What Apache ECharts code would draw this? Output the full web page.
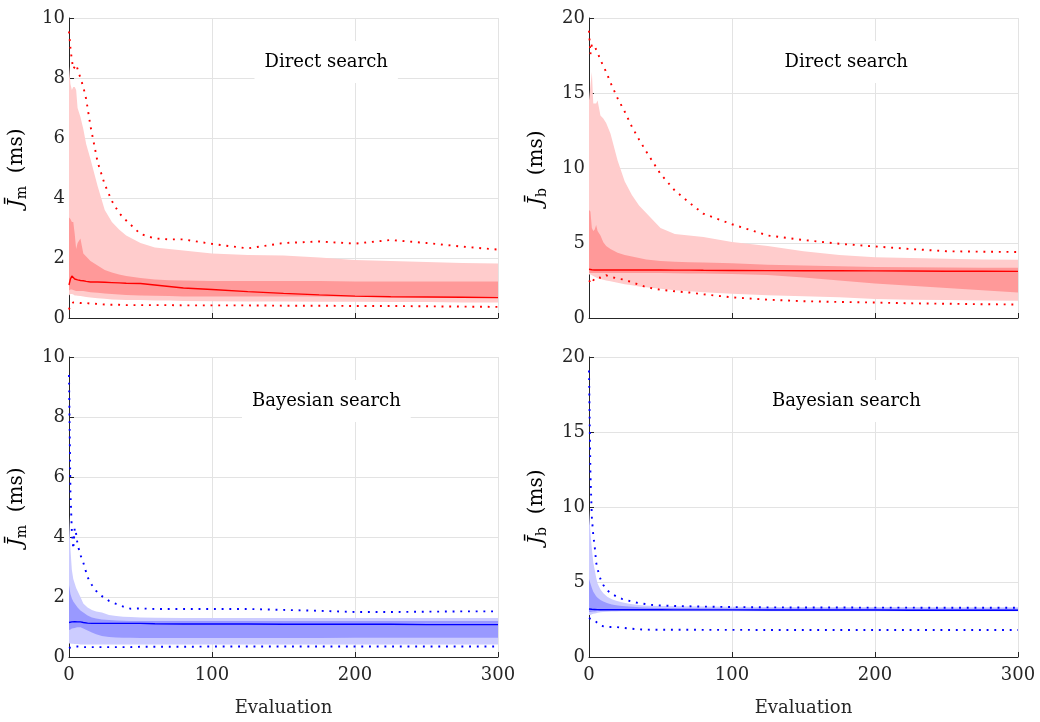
<!DOCTYPE html>
<html>
<head>
<meta charset="utf-8">
<script src="https://cdn.jsdelivr.net/npm/echarts@6/dist/echarts.min.js"></script>
<style>
html,body{margin:0;padding:0;background:#fff;}
#chart{width:1040px;height:722px;}
</style>
</head>
<body>
<div id="chart"></div>
<script>
// ---------- Data: Direct search (top row) ----------
const xDirect = [0,1,2,3,4,5,6,8,10,12,15,20,25,30,35,40,50,60,70,80,100,125,150,175,200,225,250,275,300];

// J_m, direct search
const dmLightHi = [8.4,7.8,7.6,7.7,7.7,7.6,7.0,6.7,6.3,5.8,5.3,4.4,3.6,3.2,2.95,2.75,2.5,2.35,2.3,2.25,2.15,2.1,2.08,2.02,1.93,1.9,1.87,1.83,1.82];
const dmLightLo = [0.75,0.8,0.8,0.78,0.75,0.75,0.74,0.73,0.72,0.7,0.68,0.66,0.64,0.62,0.61,0.6,0.6,0.58,0.58,0.57,0.56,0.55,0.55,0.54,0.54,0.53,0.53,0.52,0.52];
const dmDarkHi  = [3.35,3.3,3.2,3.2,2.8,2.3,2.5,2.65,2.15,2.05,1.9,1.75,1.6,1.52,1.45,1.4,1.33,1.28,1.26,1.25,1.23,1.23,1.23,1.23,1.22,1.22,1.22,1.22,1.22];
const dmDarkLo  = [0.92,0.95,0.95,0.93,0.92,0.9,0.9,0.9,0.9,0.88,0.86,0.84,0.82,0.8,0.78,0.77,0.75,0.74,0.73,0.72,0.72,0.72,0.72,0.72,0.71,0.71,0.7,0.7,0.7];
const dmMedian  = [1.1,1.3,1.4,1.35,1.3,1.28,1.27,1.25,1.24,1.22,1.2,1.2,1.19,1.18,1.17,1.16,1.15,1.1,1.05,1.0,0.95,0.88,0.82,0.77,0.73,0.71,0.7,0.69,0.68];
const dmMin     = [0.28,0.45,0.5,0.52,0.53,0.53,0.52,0.5,0.5,0.5,0.48,0.47,0.45,0.44,0.44,0.43,0.43,0.43,0.43,0.42,0.42,0.42,0.41,0.41,0.4,0.4,0.39,0.38,0.37];
const dmMax     = [9.55,9.0,8.6,8.3,8.3,8.45,8.5,8.0,7.7,7.3,6.4,5.2,4.45,3.9,3.5,3.25,2.8,2.65,2.62,2.62,2.47,2.32,2.5,2.55,2.48,2.6,2.5,2.38,2.28];

// J_b, direct search
const dbLightHi = [14.5,15.5,16.4,14.3,14.3,14.3,14.5,13.5,13.3,13.0,12.3,10.5,9.1,8.2,7.5,7.0,6.0,5.6,5.5,5.4,5.06,4.8,4.45,4.2,4.05,4.0,3.95,3.9,3.88];
const dbLightLo = [2.9,2.9,2.85,2.8,2.75,2.7,2.65,2.6,2.55,2.5,2.45,2.35,2.25,2.18,2.1,2.05,1.95,1.85,1.78,1.72,1.62,1.52,1.45,1.38,1.27,1.22,1.2,1.17,1.15];
const dbDarkHi  = [7.2,7.1,6.0,5.8,5.9,6.2,5.8,5.5,5.05,4.8,4.6,4.35,4.2,4.1,4.0,3.9,3.8,3.75,3.72,3.7,3.65,3.55,3.5,3.45,3.4,3.38,3.36,3.35,3.35];
const dbDarkLo  = [3.0,3.0,3.0,3.0,3.0,3.0,3.0,3.0,3.0,3.0,3.0,3.0,3.0,3.0,3.0,3.0,3.0,2.98,2.97,2.96,2.93,2.87,2.7,2.5,2.3,2.15,2.0,1.85,1.7];
const dbMedian  = [3.25,3.25,3.22,3.22,3.2,3.2,3.2,3.2,3.2,3.2,3.2,3.2,3.2,3.2,3.2,3.2,3.2,3.19,3.19,3.18,3.17,3.16,3.15,3.15,3.14,3.13,3.12,3.12,3.11];
const dbMin     = [2.5,2.45,2.27,2.5,2.65,2.74,2.72,2.68,2.7,2.85,2.75,2.63,2.55,2.38,2.22,2.06,1.88,1.78,1.7,1.58,1.38,1.22,1.12,1.07,1.03,0.98,0.95,0.92,0.9];
const dbMax     = [19.15,17.6,18.25,18.2,18.1,18.0,17.7,17.2,16.8,16.4,15.7,14.65,13.75,12.75,11.9,11.1,9.6,8.5,7.7,6.95,6.25,5.5,5.2,4.95,4.77,4.6,4.45,4.42,4.4];

// ---------- Data: Bayesian search (bottom row) ----------
const xBayes = [0,1,2,3,4,5,6,8,10,13,16,19,23,28,33,38,43,50,60,80,100,125,150,175,200,225,250,275,300];

// J_m, Bayesian search
const bmLightHi = [4.7,3.6,2.9,2.6,2.45,2.3,2.2,2.0,1.78,1.65,1.57,1.52,1.48,1.4,1.37,1.34,1.33,1.32,1.31,1.3,1.3,1.3,1.3,1.3,1.3,1.3,1.3,1.3,1.3];
const bmLightLo = [0.45,0.45,0.44,0.44,0.43,0.43,0.43,0.42,0.42,0.42,0.42,0.42,0.42,0.42,0.42,0.42,0.42,0.42,0.42,0.42,0.42,0.42,0.42,0.42,0.42,0.42,0.42,0.42,0.42];
const bmDarkHi  = [2.4,2.1,1.95,1.85,1.78,1.72,1.65,1.55,1.48,1.38,1.32,1.28,1.25,1.23,1.22,1.21,1.2,1.2,1.2,1.2,1.2,1.2,1.2,1.2,1.2,1.2,1.2,1.2,1.2];
const bmDarkLo  = [0.9,0.92,0.95,0.96,0.97,0.98,0.99,0.99,0.95,0.88,0.82,0.76,0.7,0.67,0.65,0.64,0.64,0.63,0.63,0.63,0.63,0.63,0.63,0.63,0.64,0.64,0.64,0.64,0.64];
const bmMedian  = [1.15,1.16,1.17,1.18,1.18,1.18,1.17,1.17,1.15,1.13,1.12,1.12,1.12,1.12,1.12,1.12,1.12,1.12,1.11,1.1,1.1,1.1,1.09,1.09,1.09,1.09,1.08,1.08,1.08];
const bmMin     = [0.3,0.33,0.34,0.35,0.35,0.35,0.35,0.34,0.33,0.33,0.33,0.33,0.33,0.33,0.33,0.33,0.33,0.34,0.34,0.34,0.35,0.35,0.35,0.35,0.35,0.35,0.35,0.35,0.35];
const bmMax     = [9.4,5.5,4.2,3.6,4.3,4.1,3.75,3.4,3.15,2.66,2.4,2.2,2.03,1.87,1.77,1.68,1.61,1.62,1.6,1.6,1.6,1.6,1.57,1.54,1.5,1.5,1.51,1.52,1.52];

// J_b, Bayesian search
const bbLightHi = [9.8,8.3,7.2,6.3,5.8,5.3,4.9,4.5,4.25,4.0,3.85,3.75,3.65,3.55,3.48,3.44,3.42,3.4,3.38,3.36,3.35,3.34,3.34,3.33,3.33,3.33,3.32,3.32,3.32];
const bbLightLo = [2.8,2.8,2.85,2.88,2.9,2.92,2.95,2.98,3.0,3.02,3.03,3.04,3.05,3.05,3.05,3.05,3.05,3.05,3.05,3.05,3.05,3.05,3.05,3.05,3.05,3.05,3.05,3.05,3.05];
const bbDarkHi  = [5.2,4.9,4.6,4.35,4.2,4.05,3.95,3.8,3.7,3.58,3.5,3.45,3.4,3.36,3.33,3.3,3.28,3.27,3.26,3.25,3.24,3.24,3.23,3.23,3.23,3.22,3.22,3.22,3.22];
const bbDarkLo  = [3.0,3.0,3.02,3.03,3.04,3.05,3.06,3.08,3.1,3.1,3.1,3.1,3.1,3.1,3.1,3.1,3.1,3.1,3.1,3.1,3.1,3.1,3.1,3.1,3.1,3.1,3.1,3.1,3.1];
const bbMedian  = [3.2,3.2,3.18,3.17,3.17,3.16,3.16,3.15,3.15,3.15,3.15,3.15,3.15,3.15,3.15,3.15,3.15,3.15,3.14,3.14,3.14,3.13,3.13,3.13,3.13,3.12,3.12,3.12,3.12];
const bbMin     = [2.6,2.55,2.5,2.46,2.44,2.35,2.25,2.1,2.05,2.0,2.0,2.0,1.95,1.9,1.86,1.83,1.82,1.82,1.82,1.81,1.81,1.8,1.8,1.8,1.8,1.8,1.8,1.8,1.8];
const bbMax     = [19.1,12.2,9.3,8.1,7.36,6.3,5.85,5.2,4.8,4.42,4.2,4.05,3.88,3.75,3.63,3.55,3.48,3.43,3.4,3.36,3.33,3.31,3.3,3.3,3.29,3.29,3.28,3.28,3.28];

// ---------- Axis ticks / labels ----------
const xTicks = {min: 0, max: 300, interval: 100};
const ymTicks = {min: 0, max: 10, interval: 2};
const ybTicks = {min: 0, max: 20, interval: 5};
const panelTitles = ['Direct search', 'Direct search', 'Bayesian search', 'Bayesian search'];
const xName = 'Evaluation';

// ---------- Layout / styling ----------
const FONT = 'DejaVu Serif';
const TXT = '#262626';
const GRIDC = '#e3e3e3';
const grids = [
  {left: 69, top: 18, width: 429, height: 300},
  {left: 589, top: 18, width: 429, height: 300},
  {left: 69, top: 357, width: 429, height: 300},
  {left: 589, top: 357, width: 429, height: 300}
];
const RED = {light: '#ffcccc', dark: '#ff9999', line: '#ff0000'};
const BLUE = {light: '#ccccff', dark: '#9999ff', line: '#0000ff'};

const panels = [
  {xs: xDirect, lh: dmLightHi, ll: dmLightLo, dh: dmDarkHi, dl: dmDarkLo, med: dmMedian, mn: dmMin, mx: dmMax, col: RED, y: ymTicks, sub: 'm'},
  {xs: xDirect, lh: dbLightHi, ll: dbLightLo, dh: dbDarkHi, dl: dbDarkLo, med: dbMedian, mn: dbMin, mx: dbMax, col: RED, y: ybTicks, sub: 'b'},
  {xs: xBayes, lh: bmLightHi, ll: bmLightLo, dh: bmDarkHi, dl: bmDarkLo, med: bmMedian, mn: bmMin, mx: bmMax, col: BLUE, y: ymTicks, sub: 'm'},
  {xs: xBayes, lh: bbLightHi, ll: bbLightLo, dh: bbDarkHi, dl: bbDarkLo, med: bbMedian, mn: bbMin, mx: bbMax, col: BLUE, y: ybTicks, sub: 'b'}
];

const pairs = (xs, ys) => xs.map((x, i) => [x, ys[i]]);

// A band (filled region between lo and hi) drawn as one polygon, positioned via the axis scales
function bandSeries(i, xs, lo, hi, color, z) {
  const rows = xs.map((x, k) => [x, lo[k], hi[k]]);
  return {
    type: 'custom', xAxisIndex: i, yAxisIndex: i, silent: true, animation: false, z: z,
    data: rows,
    encode: {x: 0, y: [1, 2]},
    clip: true,
    renderItem: function (params, api) {
      if (params.dataIndex !== 0) return null;
      const top = rows.map(r => api.coord([r[0], r[2]]));
      const bot = rows.slice().reverse().map(r => api.coord([r[0], r[1]]));
      return {
        type: 'polygon',
        shape: {points: top.concat(bot)},
        style: {fill: color, stroke: null}
      };
    }
  };
}

const xAxes = [], yAxes = [], series = [], titles = [];
panels.forEach((p, i) => {
  const bottomRow = i >= 2;
  xAxes.push({
    type: 'value', gridIndex: i, min: xTicks.min, max: xTicks.max, interval: xTicks.interval,
    name: bottomRow ? xName : '', nameLocation: 'middle', nameGap: 42,
    nameTextStyle: {fontFamily: FONT, fontSize: 18, color: TXT},
    axisLine: {show: true, onZero: false, lineStyle: {color: TXT, width: 1}},
    axisTick: {show: true, inside: true, length: 5, lineStyle: {color: TXT}},
    axisLabel: {show: bottomRow, fontFamily: FONT, fontSize: 18, color: TXT, margin: 9},
    splitLine: {show: true, lineStyle: {color: GRIDC, width: 1}}
  });
  yAxes.push({
    type: 'value', gridIndex: i, min: p.y.min, max: p.y.max, interval: p.y.interval,
    name: '{j|J\u0304}{s|' + p.sub + '}{n|  (ms)}', nameLocation: 'middle', nameGap: 40, nameRotate: 90,
    nameTextStyle: {
      fontFamily: FONT, color: TXT,
      rich: {
        j: {fontFamily: FONT, fontStyle: 'italic', fontSize: 21, color: '#000', lineHeight: 24},
        s: {fontFamily: FONT, fontSize: 14, color: '#000', verticalAlign: 'bottom', lineHeight: 14},
        n: {fontFamily: FONT, fontSize: 20, color: '#000', lineHeight: 24}
      }
    },
    axisLine: {show: true, onZero: false, lineStyle: {color: TXT, width: 1}},
    axisTick: {show: true, inside: true, length: 5, lineStyle: {color: TXT}},
    axisLabel: {fontFamily: FONT, fontSize: 18, color: TXT, margin: 4},
    splitLine: {show: true, lineStyle: {color: GRIDC, width: 1}}
  });
  const common = {type: 'line', xAxisIndex: i, yAxisIndex: i, symbol: 'none', silent: true, animation: false};
  series.push(bandSeries(i, p.xs, p.ll, p.lh, p.col.light, 1));
  series.push(bandSeries(i, p.xs, p.dl, p.dh, p.col.dark, 2));
  series.push(Object.assign({}, common, {data: pairs(p.xs, p.med), lineStyle: {color: p.col.line, width: 1.4}, z: 3}));
  series.push(Object.assign({}, common, {data: pairs(p.xs, p.mn), lineStyle: {color: p.col.line, width: 1.9, type: [1.9, 5.8]}, z: 3}));
  series.push(Object.assign({}, common, {data: pairs(p.xs, p.mx), lineStyle: {color: p.col.line, width: 1.9, type: [1.9, 5.8]}, z: 3}));

  const g = grids[i];
  const boxW = i < 2 ? 143 : 168;
  const cx = g.left + 257;
  titles.push({
    text: panelTitles[i], left: cx - boxW / 2, top: g.top + 23,
    padding: [11, 10], backgroundColor: '#ffffff',
    textStyle: {fontFamily: FONT, fontSize: 18, fontWeight: 'normal', color: '#000', lineHeight: 20},
    z: 10
  });
});

const chart = echarts.init(document.getElementById('chart'), null, {renderer: 'canvas'});
chart.setOption({
  animation: false,
  backgroundColor: '#ffffff',
  title: titles,
  grid: grids,
  xAxis: xAxes,
  yAxis: yAxes,
  series: series
});
</script>
</body>
</html>
